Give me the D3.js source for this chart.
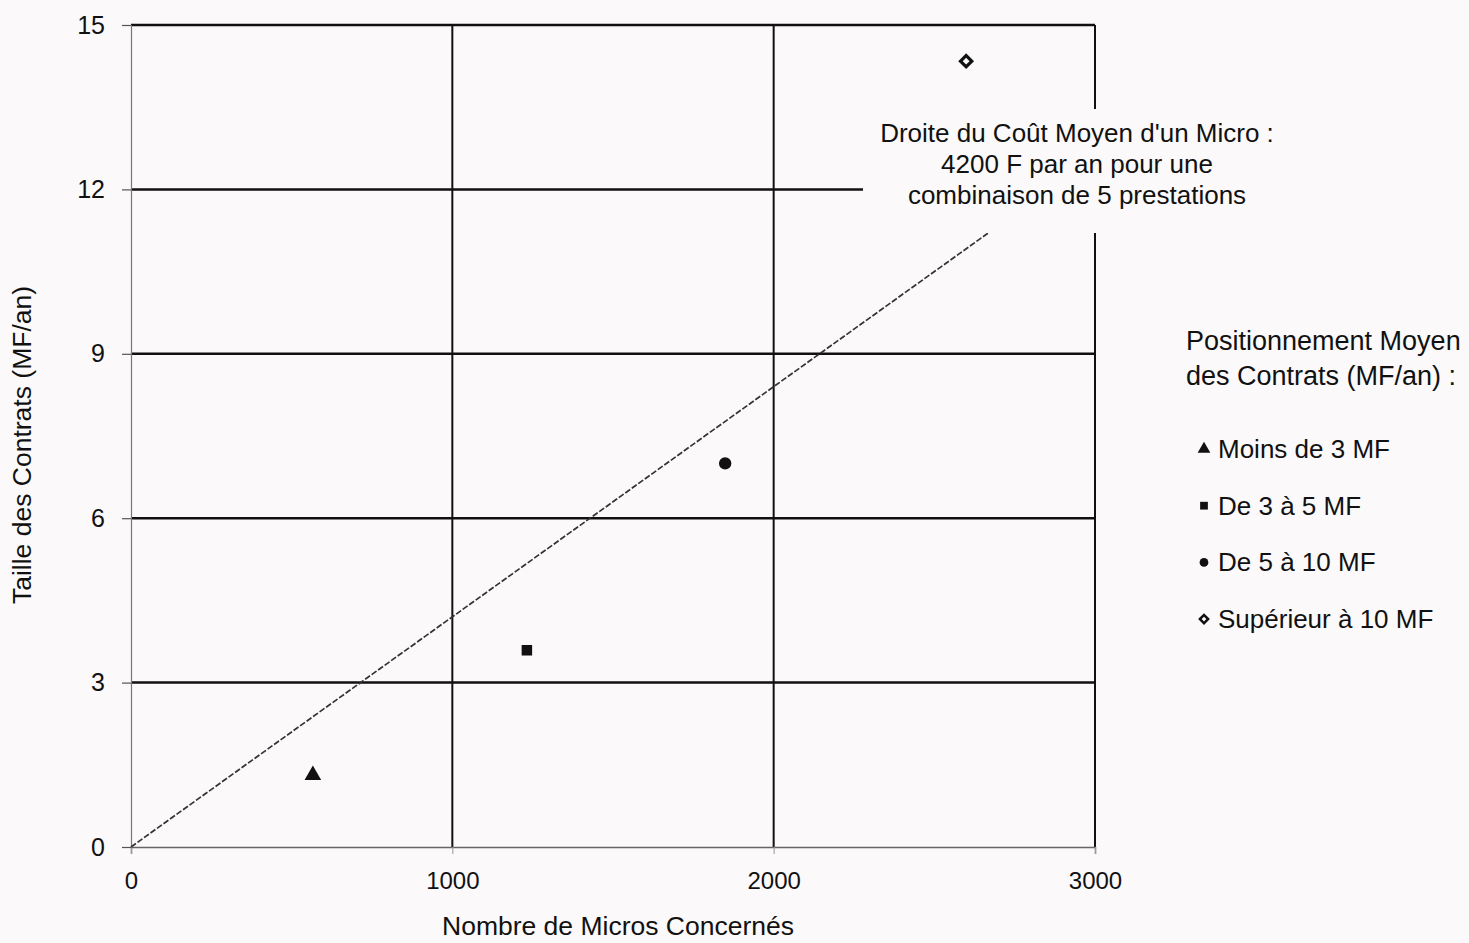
<!DOCTYPE html>
<html>
<head>
<meta charset="utf-8">
<script src="https://cdn.jsdelivr.net/npm/d3@7"></script>
<style>
  html, body { margin: 0; padding: 0; background: #fbf9f9; }
  svg { display: block; }
  text { font-family: "Liberation Sans", Arial, sans-serif; fill: #111; }
</style>
</head>
<body>
<svg id="chart" width="1469" height="943"></svg>
<script>
// ---- data ----
const categories = ["Moins de 3 MF", "De 3 à 5 MF", "De 5 à 10 MF", "Supérieur à 10 MF"];
const symbols = ["triangle", "square", "circle", "diamond"];
const microsX = [566, 1232, 1849, 2599];
const contractSize = [1.31, 3.59, 7.0, 14.34];
const costLineX = [0, 3000];
const costLineY = [0, 12.6];
const xTicks = [0, 1000, 2000, 3000];
const yTicks = [0, 3, 6, 9, 12, 15];
const xTitle = "Nombre de Micros Concernés";
const yTitle = "Taille des Contrats (MF/an)";
const annotationLines = ["Droite du Coût Moyen d'un Micro :", "4200 F par an pour une", "combinaison de 5 prestations"];
const legendTitle = ["Positionnement Moyen", "des Contrats (MF/an) :"];

// ---- layout ----
const svg = d3.select("#chart");
const x = d3.scaleLinear().domain([0, 3000]).range([131, 1095]);
const y = d3.scaleLinear().domain([0, 15]).range([847, 25]);

// horizontal gridlines (except 0)
svg.append("g").selectAll("line").data(yTicks.filter(d => d > 0)).join("line")
  .attr("x1", x(0)).attr("x2", x(3000))
  .attr("y1", d => y(d)).attr("y2", d => y(d))
  .attr("stroke", "#111").attr("stroke-width", 2.5);

// vertical gridlines (except 0)
svg.append("g").selectAll("line").data(xTicks.filter(d => d > 0)).join("line")
  .attr("x1", d => x(d)).attr("x2", d => x(d))
  .attr("y1", y(0)).attr("y2", y(15))
  .attr("stroke", "#111").attr("stroke-width", 2);

// axes
const yAxis = d3.axisLeft(y).tickValues(yTicks).tickSize(9).tickPadding(17).tickFormat(d3.format("d"));
const gy = svg.append("g").attr("transform", `translate(${x(0)},0)`).call(yAxis);
gy.select(".domain").attr("stroke", "#777").attr("stroke-width", 1.2);
gy.selectAll(".tick line").attr("stroke", "#555").attr("stroke-width", 1.2);
gy.selectAll(".tick text").attr("font-size", 25).style("font-family", "Liberation Sans, Arial, sans-serif").attr("fill", "#111");

const xAxis = d3.axisBottom(x).tickValues(xTicks).tickSize(7).tickPadding(18).tickFormat(d3.format("d"));
const gx = svg.append("g").attr("transform", `translate(0,${y(0)})`).call(xAxis);
gx.select(".domain").attr("stroke", "#666").attr("stroke-width", 1.5);
gx.selectAll(".tick line").attr("stroke", "#999").attr("stroke-width", 1);
gx.selectAll(".tick text").attr("font-size", 24).style("font-family", "Liberation Sans, Arial, sans-serif").attr("fill", "#111");

// cost line
const line = d3.line().x(d => x(d[0])).y(d => y(d[1]));
svg.append("path").datum(d3.zip(costLineX, costLineY))
  .attr("d", line).attr("fill", "none")
  .attr("stroke", "#333").attr("stroke-width", 1.7).attr("stroke-dasharray", "6,2");

// annotation box (covers grid)
svg.append("rect").attr("x", 863).attr("y", 109).attr("width", 430).attr("height", 124)
  .attr("fill", "#fbf9f9");
svg.append("g").selectAll("text").data(annotationLines).join("text")
  .attr("x", 1077).attr("y", (d, i) => 142 + i * 31)
  .attr("text-anchor", "middle").attr("font-size", 26).text(d => d);

// markers
const symMap = { triangle: d3.symbolTriangle, square: d3.symbolSquare, circle: d3.symbolCircle, diamond: d3.symbolSquare };
function drawMarker(sel, type, size) {
  const sym = d3.symbol().type(symMap[type]).size(size);
  sel.attr("d", sym());
  if (type === "diamond") {
    sel.attr("fill", "none").attr("stroke", "#111").attr("stroke-width", 3.2);
  } else {
    sel.attr("fill", "#111");
  }
}
const pts = d3.range(categories.length).map(i => ({ x: microsX[i], y: contractSize[i], s: symbols[i] }));
svg.append("g").selectAll("path").data(pts).join("path")
  .each(function(d) {
    const sz = d.s === "diamond" ? 64 : d.s === "triangle" ? 120 : d.s === "circle" ? 120 : 110;
    drawMarker(d3.select(this), d.s, sz);
    const rot = d.s === "diamond" ? " rotate(45)" : "";
    d3.select(this).attr("transform", `translate(${x(d.x)},${y(d.y)})${rot}`);
  });

// titles
svg.append("text").attr("x", 618).attr("y", 935).attr("text-anchor", "middle")
  .attr("font-size", 26.5).text(xTitle);
svg.append("text").attr("transform", "translate(31,445) rotate(-90)").attr("text-anchor", "middle")
  .attr("font-size", 26.5).text(yTitle);

// legend
svg.append("g").selectAll("text").data(legendTitle).join("text")
  .attr("x", 1186).attr("y", (d, i) => 350 + i * 35)
  .attr("font-size", 27).text(d => d);
const lg = svg.append("g").selectAll("g").data(categories).join("g")
  .attr("transform", (d, i) => `translate(1204,${449 + i * 56.7})`);
lg.append("path").each(function(d, i) {
  const s = symbols[i];
  const sz = s === "diamond" ? 34 : s === "triangle" ? 70 : s === "circle" ? 60 : 60;
  drawMarker(d3.select(this), s, sz);
  if (s === "diamond") d3.select(this).attr("stroke-width", 2.5).attr("transform", "rotate(45)");
});
lg.append("text").attr("x", 14).attr("y", 9).attr("font-size", 26).text(d => d);
</script>
</body>
</html>
